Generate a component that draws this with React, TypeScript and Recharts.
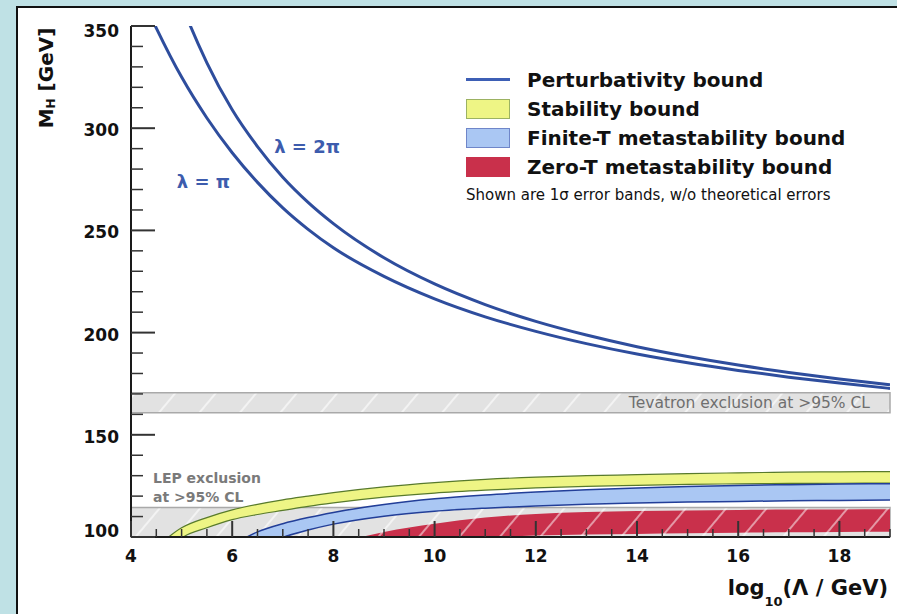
import React from "react";
import {
  Area,
  ComposedChart,
  Legend,
  Line,
  ReferenceArea,
  ReferenceDot,
  XAxis,
  YAxis,
} from "recharts";

// log10(Lambda / GeV) sample points
const logLambda = [4, 4.5, 5, 5.5, 6, 6.5, 7, 7.5, 8, 9, 10, 11, 12, 13, 14, 15, 16, 17, 18, 19];

// perturbativity bounds (GeV)
const lambdaPi = [376, 349, 325, 305, 288, 273.5, 261, 250.5, 241.5, 227.5, 216.5, 207.7, 200.6, 194.6, 189.5, 185.2, 181.5, 178.2, 175.3, 172.7];
const lambda2Pi = [454, 400, 361, 332, 309, 291, 276, 263.7, 253.3, 236.6, 223.8, 213.7, 205.5, 198.8, 193.1, 188.3, 184.1, 180.5, 177.3, 174.5];

// 1 sigma bands (GeV)
const stabilityLow = [null, 85, 99.4, 104.5, 108.5, 111, 113, 115, 116.7, 119.5, 121.5, 122.9, 124, 124.8, 125.3, 125.7, 126, 126.2, 126.3, 126.4];
const stabilityHigh = [null, 95, 104.5, 109.5, 113.3, 116, 118.2, 120, 121.7, 124.5, 126.6, 128.2, 129.3, 130, 130.5, 131, 131.4, 131.7, 131.9, 132];
const finiteTLow = [null, null, null, null, 86, 94, 99.8, 103.4, 106.3, 110.2, 112.6, 114.1, 115.2, 116, 116.6, 117.1, 117.4, 117.7, 117.9, 118.1];
const finiteTHigh = [null, null, null, null, 96, 102.5, 106.5, 109.5, 112, 115.9, 118.7, 120.6, 122, 123.1, 124, 124.7, 125.2, 125.6, 125.9, 126.1];
const zeroTLow = [null, null, null, null, null, null, null, null, 85, 90, 96, 99.6, 100.7, 101.2, 101.5, 101.8, 102.1, 102.3, 102.5, 102.6];
const zeroTHigh = [null, null, null, null, null, null, null, null, 96.5, 102.5, 106.5, 109.5, 111.3, 112.2, 112.7, 113, 113.2, 113.4, 113.5, 113.6];

// experimental exclusions (GeV)
const tevatronBand = [160.8, 170.6];
const lepBand = [100, 114.4];

const xTicks = Array.from({ length: 31 }, (_, i) => 4 + i * 0.5);
const yTicks = Array.from({ length: 26 }, (_, i) => 100 + i * 10);

const legendLabels = [
  "Perturbativity bound",
  "Stability bound",
  "Finite-T metastability bound",
  "Zero-T metastability bound",
];
const legendNote = "Shown are 1σ error bands, w/o theoretical errors";

const FONT = "'DejaVu Sans', sans-serif";
const C = {
  curve: "#2e4d9d",
  label: "#3d5cad",
  stabFill: "#eef585",
  stabEdge: "#587a2c",
  finFill: "#aac7f3",
  finEdge: "#223e98",
  zeroFill: "#c9304b",
  band: "#e2e2e2",
  bandEdge: "#a9a9a9",
  axis: "#1a1a1a",
  tick: "#333",
};

const data = logLambda.map((x, i) => ({
  x,
  lamPi: lambdaPi[i],
  lam2Pi: lambda2Pi[i],
  stability: stabilityLow[i] == null ? null : [stabilityLow[i], stabilityHigh[i]],
  finiteT: finiteTLow[i] == null ? null : [finiteTLow[i], finiteTHigh[i]],
  zeroT: zeroTLow[i] == null ? null : [zeroTLow[i], zeroTHigh[i]],
}));

const isMajorX = (v: number) => v % 2 === 0;
const isMajorY = (v: number) => v % 50 === 0;

function BottomTick({ x, y, payload }: any) {
  const major = isMajorX(payload.value);
  return (
    <g>
      <line x1={x} y1={y} x2={x} y2={y - (major ? 16 : 8)} stroke={C.tick} strokeWidth={major ? 2 : 1.5} />
      {major && (
        <text x={x} y={y + 19} textAnchor="middle" dominantBaseline="central"
          fontFamily={FONT} fontWeight="bold" fontSize={17} fill="#111">
          {payload.value}
        </text>
      )}
    </g>
  );
}

function TopTick({ x, y, payload }: any) {
  const major = isMajorX(payload.value);
  return <line x1={x} y1={y} x2={x} y2={y + (major ? 16 : 8)} stroke={C.tick} strokeWidth={major ? 2 : 1.5} />;
}

function LeftTick({ x, y, payload }: any) {
  const v = payload.value;
  const major = isMajorY(v);
  const dy = v === 100 ? -6 : v === 350 ? 5 : 2;
  return (
    <g>
      <line x1={x} y1={y} x2={x + (major ? 24 : 12)} y2={y} stroke={C.tick} strokeWidth={major ? 2 : 1.5} />
      {major && (
        <text x={x - 12} y={y + dy} textAnchor="end" dominantBaseline="central"
          fontFamily={FONT} fontWeight="bold" fontSize={17} fill="#111">
          {v}
        </text>
      )}
    </g>
  );
}

function RightTick({ x, y, payload }: any) {
  const major = isMajorY(payload.value);
  return <line x1={x} y1={y} x2={x - (major ? 24 : 12)} y2={y} stroke={C.tick} strokeWidth={major ? 2 : 1.5} />;
}

const xTitle = (p: any) => {
  const vb = p.viewBox;
  return (
    <text x={vb.x + vb.width - 2} y={vb.y + 58} textAnchor="end" fontFamily={FONT}
      fontWeight="bold" fontSize={21} fill="#111">
      log<tspan dy={11} fontSize={13}>10</tspan>
      <tspan dy={-11}>(Λ / GeV)</tspan>
    </text>
  );
};

const yTitle = (p: any) => {
  const vb = p.viewBox;
  const cx = vb.x - 25;
  const cy = vb.y + 52;
  return (
    <text x={cx} y={cy} transform={`rotate(-90, ${cx}, ${cy})`} textAnchor="middle"
      dominantBaseline="central" fontFamily={FONT} fontWeight="bold" fontSize={20} fill="#111">
      M<tspan dy={5} fontSize={12}>H</tspan>
      <tspan dy={-5}> [GeV]</tspan>
    </text>
  );
};

const lepLabel = (p: any) => {
  const vb = p.viewBox;
  return (
    <text fontFamily={FONT} fontWeight="bold" fontSize={14} fill="#7a7a7a">
      <tspan x={vb.x + 22} y={vb.y - 25}>LEP exclusion</tspan>
      <tspan x={vb.x + 22} y={vb.y - 6}>at &gt;95% CL</tspan>
    </text>
  );
};

function LegendBox() {
  const fills = [C.curve, C.stabFill, C.finFill, C.zeroFill];
  const edges = [C.curve, "#9cb262", "#6f86c9", C.zeroFill];
  return (
    <div style={{ fontFamily: FONT, color: "#111" }}>
      {legendLabels.map((label, i) => (
        <div key={label} style={{ display: "flex", alignItems: "center", height: 29 }}>
          <div style={{ width: 44, height: 29, display: "flex", alignItems: "center" }}>
            {i === 0 ? (
              <div style={{ width: 44, height: 3, background: "#3d5fb5" }} />
            ) : (
              <div style={{ width: 42, height: 18, background: fills[i], border: `1px solid ${edges[i]}` }} />
            )}
          </div>
          <span style={{ marginLeft: 17, fontSize: 20, fontWeight: "bold", whiteSpace: "nowrap" }}>{label}</span>
        </div>
      ))}
      <div style={{ fontSize: 15, marginTop: 5, whiteSpace: "nowrap" }}>{legendNote}</div>
    </div>
  );
}

export default function App() {
  return (
    <div style={{ position: "fixed", left: 0, top: 0, width: 897, height: 614, overflow: "hidden", background: "#bfe1e5", fontFamily: FONT }}>
      <div style={{ position: "absolute", left: 16, top: 6, width: 960, height: 700, border: "2px solid #111", background: "#fff" }} />
      <div style={{ position: "absolute", left: 0, top: 0 }}>
        <ComposedChart width={897} height={614} data={data} margin={{ top: 26, right: 7, bottom: 47, left: 71 }}>
          <defs>
            <pattern id="hatchGray" patternUnits="userSpaceOnUse" width={31} height={31} patternTransform="rotate(40)">
              <rect width={31} height={31} fill={C.band} />
              <line x1={15} y1={0} x2={15} y2={31} stroke="#fff" strokeWidth={1.2} />
            </pattern>
            <pattern id="hatchRed" patternUnits="userSpaceOnUse" width={31} height={31} patternTransform="rotate(40)">
              <rect width={31} height={31} fill={C.zeroFill} />
              <line x1={15} y1={0} x2={15} y2={31} stroke="#f6dde2" strokeWidth={1.2} />
            </pattern>
          </defs>

          <XAxis dataKey="x" type="number" domain={[4, 19]} ticks={xTicks} interval={0} allowDataOverflow
            height={30} tickSize={0} tickMargin={0} tickLine={false} tick={BottomTick}
            axisLine={{ stroke: C.axis, strokeWidth: 2 }} label={xTitle} />
          <XAxis xAxisId="top" orientation="top" dataKey="x" type="number" domain={[4, 19]} ticks={xTicks}
            interval={0} allowDataOverflow height={0} tickSize={0} tickMargin={0} tickLine={false} tick={TopTick}
            axisLine={{ stroke: C.axis, strokeWidth: 2 }} />
          <YAxis type="number" domain={[100, 350]} ticks={yTicks} interval={0} allowDataOverflow width={60}
            tickSize={0} tickMargin={0} tickLine={false} tick={LeftTick}
            axisLine={{ stroke: C.axis, strokeWidth: 2 }} label={yTitle} />
          <YAxis yAxisId="right" orientation="right" type="number" domain={[100, 350]} ticks={yTicks}
            interval={0} allowDataOverflow width={0} tickSize={0} tickMargin={0} tickLine={false} tick={RightTick}
            axisLine={{ stroke: C.axis, strokeWidth: 2 }} />

          <ReferenceArea y1={lepBand[0]} y2={lepBand[1]} fill="url(#hatchGray)" fillOpacity={1}
            stroke={C.bandEdge} strokeWidth={1.5} label={lepLabel} />
          <ReferenceArea y1={tevatronBand[0]} y2={tevatronBand[1]} fill="url(#hatchGray)" fillOpacity={1}
            stroke={C.bandEdge} strokeWidth={1.5}
            label={{ value: "Tevatron exclusion at >95% CL", position: "insideRight", offset: 20, fill: "#6f6f6f", fontSize: 15.5, fontFamily: FONT }} />

          <Area dataKey="stability" type="monotone" fill={C.stabFill} fillOpacity={1} stroke={C.stabEdge}
            strokeWidth={1.2} isAnimationActive={false} />
          <Area dataKey="finiteT" type="monotone" fill={C.finFill} fillOpacity={1} stroke={C.finEdge}
            strokeWidth={1.5} isAnimationActive={false} />
          <Area dataKey="zeroT" type="monotone" fill="url(#hatchRed)" fillOpacity={1} stroke="none"
            isAnimationActive={false} />

          <Line dataKey="lamPi" type="monotone" stroke={C.curve} strokeWidth={3} dot={false} isAnimationActive={false} />
          <Line dataKey="lam2Pi" type="monotone" stroke={C.curve} strokeWidth={3} dot={false} isAnimationActive={false} />

          <ReferenceDot x={5.43} y={274} r={0} fill="none" stroke="none"
            label={{ value: "λ = π", position: "center", fill: C.label, fontSize: 18, fontWeight: "bold", fontFamily: FONT }} />
          <ReferenceDot x={7.48} y={291} r={0} fill="none" stroke="none"
            label={{ value: "λ = 2π", position: "center", fill: C.label, fontSize: 18, fontWeight: "bold", fontFamily: FONT }} />

          <Legend layout="horizontal" verticalAlign="middle" align="center" content={LegendBox}
            wrapperStyle={{ left: 466, top: 65, width: 420 }} />
        </ComposedChart>
      </div>
    </div>
  );
}
